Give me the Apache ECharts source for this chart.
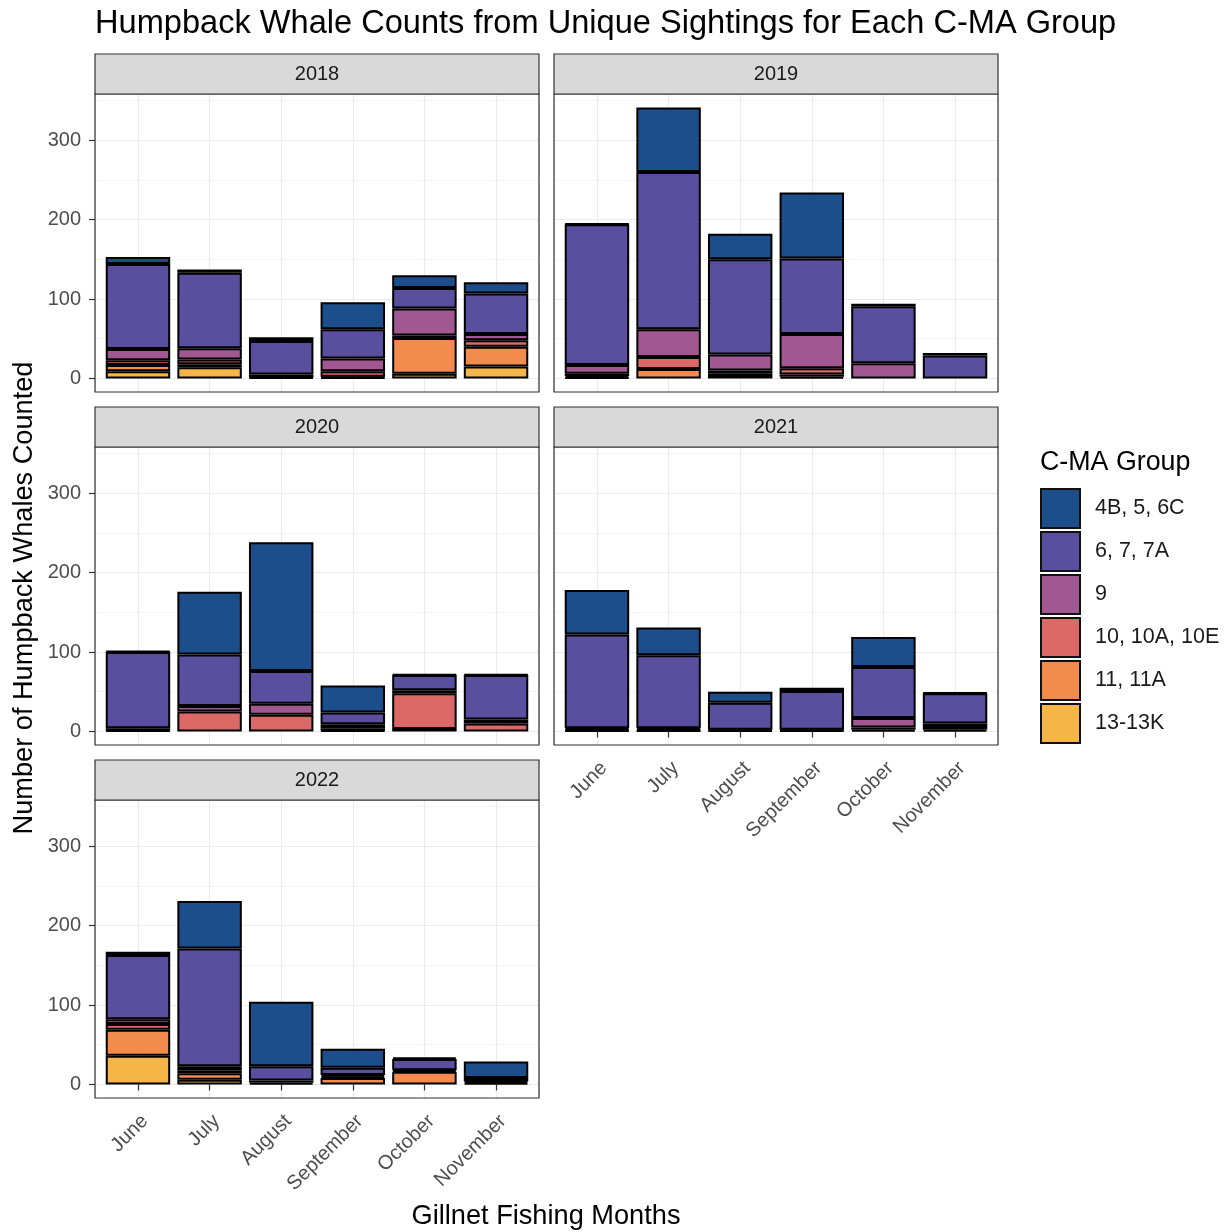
<!DOCTYPE html>
<html>
<head>
<meta charset="utf-8">
<script src="https://cdn.jsdelivr.net/npm/echarts@6/dist/echarts.min.js"></script>
<style>
  html, body { margin: 0; padding: 0; background: #ffffff; }
  #chart { width: 1228px; height: 1232px; }
</style>
</head>
<body>
<div id="chart"></div>
<script>
// Facet years, fishing months and C-MA groups
const years = ['2018', '2019', '2020', '2021', '2022'];
const months = ['June', 'July', 'August', 'September', 'October', 'November'];
const groups = ['4B, 5, 6C', '6, 7, 7A', '9', '10, 10A, 10E', '11, 11A', '13-13K'];
const groupColors = ['#1C4E8C', '#5A4F9F', '#A15892', '#DD6868', '#F28B4C', '#F5B548'];

// Whale counts per group: one row per year (2018..2022), one value per month (June..November)
const g4B = [
  [9, 4, 5, 34, 16, 14],
  [1, 81, 32, 83, 3, 3],
  [1, 79, 162, 34, 1, 1],
  [56, 35, 14, 4, 38, 1],
  [4, 60, 81, 24, 2, 21]
];
const g67 = [
  [107, 95, 42, 37, 26, 51],
  [177, 198, 120, 95, 72, 29],
  [96, 65, 41, 15, 19, 56],
  [118, 92, 34, 49, 64, 38],
  [81, 148, 18, 9, 14, 4]
];
const g9 = [
  [14, 14, 4, 16, 34, 8],
  [11, 35, 20, 43, 19, 0],
  [3, 7, 14, 5, 4, 5],
  [2, 2, 1, 1, 12, 3],
  [6, 5, 3, 2, 0, 2]
];
const g10 = [
  [6, 6, 1, 7, 3, 8],
  [3, 15, 4, 8, 0, 0],
  [1, 25, 21, 3, 45, 10],
  [1, 1, 1, 1, 3, 5],
  [7, 4, 2, 2, 2, 2]
];
const g11 = [
  [8, 4, 0, 1, 45, 25],
  [2, 12, 3, 3, 0, 0],
  [0, 0, 0, 1, 3, 0],
  [1, 1, 0, 0, 2, 2],
  [33, 8, 0, 8, 16, 0]
];
const g13 = [
  [9, 14, 0, 1, 6, 15],
  [1, 0, 3, 2, 0, 0],
  [0, 0, 0, 0, 0, 0],
  [0, 0, 0, 0, 0, 0],
  [36, 6, 0, 0, 0, 0]
];
const yTickValues = [0, 100, 200, 300];

const counts = [g4B, g67, g9, g10, g11, g13];

// ---- layout of the facet grid ----
const FONT = "'Liberation Sans', Arial, sans-serif";
const colLeft = [95, 554];
const panelTop = [94, 447, 800];
const panelW = 444, panelH = 298, stripH = 40;
const facetPos = [[0, 0], [0, 1], [1, 0], [1, 1], [2, 0]]; // [row, col] per year
const bottomFacets = [3, 4];   // facets that carry the month axis
const xPad = 0.6;              // discrete scale padding, in category units
const xSpan = months.length - 1 + 2 * xPad;
const bandInset = panelW * (xPad - 0.5) / xSpan;

// shared y range with 5% expansion
let maxTotal = 0;
years.forEach((_, i) => months.forEach((_, k) => {
  let s = 0; counts.forEach(g => { s += g[i][k]; });
  maxTotal = Math.max(maxTotal, s);
}));
const yMin = -0.05 * maxTotal, yMax = 1.05 * maxTotal;

const grids = [], xAxes = [], yAxes = [], series = [], graphics = [];
const labelStyle = { fontSize: 20, color: '#4D4D4D', fontFamily: FONT };
const tickStyle = { color: '#333333', width: 1.2 };

years.forEach((yr, i) => {
  const [r, c] = facetPos[i];
  const left = colLeft[c], top = panelTop[r];
  const showX = bottomFacets.includes(i);
  const showY = c === 0;
  const gBack = 2 * i, gBars = 2 * i + 1;

  // background grid spanning the whole panel: gridlines and y labels
  grids.push({ left, top, width: panelW, height: panelH, show: false, outerBoundsMode: 'none', containLabel: false });
  // bar grid, inset so that category centres sit 0.6 units from the panel edge
  grids.push({ left: left + bandInset, top, width: panelW - 2 * bandInset, height: panelH, show: false, outerBoundsMode: 'none', containLabel: false });

  // x axes
  xAxes.push({
    gridIndex: gBack, type: 'value', min: 1 - xPad, max: months.length + xPad,
    axisLine: { show: false }, axisTick: { show: false }, axisLabel: { show: false },
    splitLine: { show: true, lineStyle: { color: '#EBEBEB', width: 1.2 } }
  });
  xAxes.push({
    gridIndex: gBars, type: 'category', data: months, boundaryGap: true,
    axisLine: { show: false },
    axisTick: { show: showX, alignWithLabel: true, length: 6, lineStyle: tickStyle },
    axisLabel: Object.assign({ show: showX, rotate: 45, margin: 13, interval: 0, verticalAlign: 'top' }, labelStyle),
    splitLine: { show: false }
  });

  // y axes: major lines + labels, minor lines (offset by half a step), bar scale
  yAxes.push({
    gridIndex: gBack, type: 'value', min: yMin, max: yMax,
    axisLine: { show: false },
    axisTick: { show: showY, length: 6, customValues: yTickValues, lineStyle: tickStyle },
    axisLabel: Object.assign({
      show: showY, customValues: yTickValues, margin: 14,
      formatter: v => yTickValues.includes(v) ? String(v) : ''
    }, labelStyle),
    splitLine: { show: true, lineStyle: { color: '#EBEBEB', width: 1.2 } }
  });
  yAxes.push({
    gridIndex: gBack, type: 'value', min: yMin + 50, max: yMax + 50,
    axisLine: { show: false }, axisTick: { show: false }, axisLabel: { show: false },
    splitLine: { show: true, lineStyle: { color: '#F2F2F2', width: 0.8 } }
  });
  const barY = yAxes.length;
  yAxes.push({
    gridIndex: gBars, type: 'value', min: yMin, max: yMax,
    axisLine: { show: false }, axisTick: { show: false }, axisLabel: { show: false },
    splitLine: { show: false }
  });

  // stacked bars: bottom group first
  for (let g = groups.length - 1; g >= 0; g--) {
    series.push({
      type: 'bar', name: groups[g], xAxisIndex: 2 * i + 1, yAxisIndex: barY,
      stack: 'facet' + i, barWidth: '90%',
      data: counts[g][i].map(v => v > 0 ? v : null),
      itemStyle: { color: groupColors[g], borderColor: '#000000', borderWidth: 2 },
      emphasis: { disabled: true }, silent: true
    });
  }

  // panel frame and strip
  graphics.push({
    type: 'rect', z: 100, silent: true,
    shape: { x: left, y: top, width: panelW, height: panelH },
    style: { fill: 'none', stroke: '#333333', lineWidth: 1.2 }
  });
  graphics.push({
    type: 'rect', z: 100, silent: true,
    shape: { x: left, y: top - stripH, width: panelW, height: stripH },
    style: { fill: '#D9D9D9', stroke: '#333333', lineWidth: 1.2 }
  });
  graphics.push({
    type: 'text', z: 101, silent: true,
    x: left + panelW / 2, y: top - stripH / 2,
    style: { text: yr, fill: '#1A1A1A', font: '20px ' + FONT, textAlign: 'center', textVerticalAlign: 'middle' }
  });
});

// axis titles
graphics.push({
  type: 'text', silent: true, x: 25, y: 598, rotation: Math.PI / 2,
  style: { text: 'Number of Humpback Whales Counted', fill: '#000000', font: '27.2px ' + FONT, textAlign: 'center', textVerticalAlign: 'middle' }
});
graphics.push({
  type: 'text', silent: true, x: 546, y: 1217,
  style: { text: 'Gillnet Fishing Months', fill: '#000000', font: '27.2px ' + FONT, textAlign: 'center', textVerticalAlign: 'middle' }
});

const chart = echarts.init(document.getElementById('chart'), null, { renderer: 'canvas' });
chart.setOption({
  animation: false,
  backgroundColor: '#ffffff',
  title: [
    { text: 'Humpback Whale Counts from Unique Sightings for Each C-MA Group', left: 95, top: 8, padding: 0,
      textStyle: { fontSize: 32.6, fontWeight: 'normal', color: '#000000', fontFamily: FONT } },
    { text: 'C-MA Group', left: 1040, top: 449, padding: 0,
      textStyle: { fontSize: 26.8, fontWeight: 'normal', color: '#000000', fontFamily: FONT } }
  ],
  legend: {
    orient: 'vertical', left: 1040, top: 488, padding: 0,
    itemWidth: 39, itemHeight: 39, itemGap: 2, icon: 'rect', selectedMode: false,
    data: groups,
    itemStyle: { borderColor: '#111111', borderWidth: 2 },
    textStyle: { fontSize: 21.5, color: '#1A1A1A', fontFamily: FONT, padding: [0, 0, 0, 10] }
  },
  grid: grids,
  xAxis: xAxes,
  yAxis: yAxes,
  series,
  graphic: graphics
});
</script>
</body>
</html>
